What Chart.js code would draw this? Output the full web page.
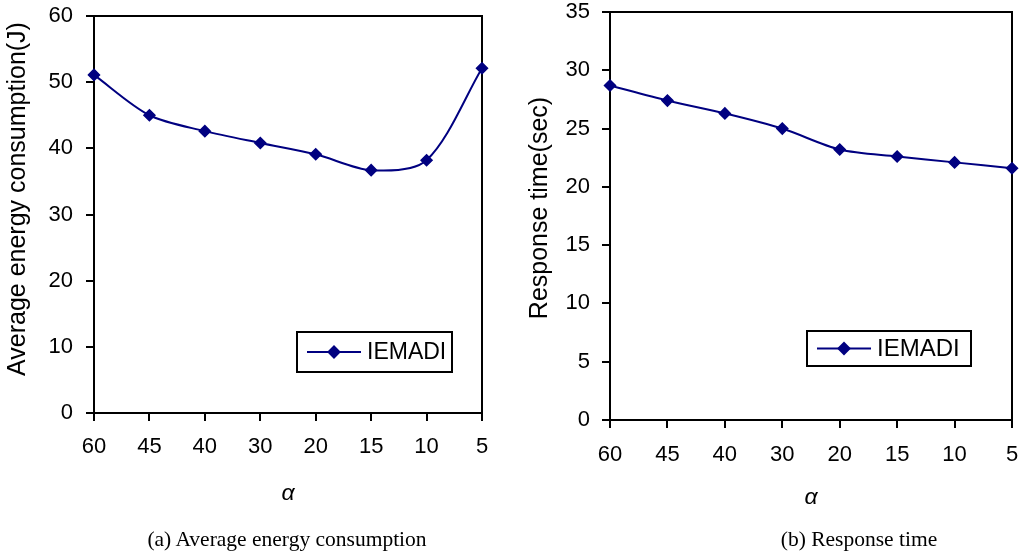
<!DOCTYPE html>
<html>
<head>
<meta charset="utf-8">
<script src="https://cdn.jsdelivr.net/npm/chart.js@4"></script>
<style>
  html, body { margin: 0; padding: 0; background: #fff; }
  #wrap { position: relative; width: 1022px; height: 559px; overflow: hidden; }
  .box { position: absolute; top: 0; width: 511px; height: 559px; }
  .cap { position: absolute; top: 527px; font-family: "Liberation Serif", serif; font-size: 21.5px; color: #000; white-space: nowrap; transform: translateX(-50%); }
</style>
</head>
<body>
<div id="wrap">
  <div class="box" style="left:0"><canvas id="energy"></canvas></div>
  <div class="box" style="left:511px"><canvas id="resp"></canvas></div>
  <div class="cap" style="left:287px">(a) Average energy consumption</div>
  <div class="cap" style="left:859px">(b) Response time</div>
</div>
<script>
// x categories (alpha), shared by both panels
const alphaLabels = ['60', '45', '40', '30', '20', '15', '10', '5'];

// panel (a): average energy consumption (J)
const energyValues = [51.1, 45.0, 42.6, 40.8, 39.1, 36.7, 38.2, 52.1];
// panel (b): response time (sec)
const responseValues = [28.7, 27.4, 26.3, 25.0, 23.2, 22.6, 22.1, 21.6];

const seriesName = 'IEMADI';
const NAVY = '#000080';
const SANS = '"Liberation Sans", Arial, sans-serif';

// draws top/right frame of the plot area
const framePlugin = {
  id: 'frame',
  beforeDatasetsDraw(chart) {
    const { ctx, chartArea: a } = chart;
    ctx.save();
    ctx.strokeStyle = '#000';
    ctx.lineWidth = 2;
    ctx.beginPath();
    ctx.moveTo(a.left, a.top);
    ctx.lineTo(a.right, a.top);
    ctx.lineTo(a.right, a.bottom);
    ctx.stroke();
    ctx.restore();
  }
};

// rotated y title, placed a bit above the axis middle like the original
const yTitlePlugin = {
  id: 'yTitle',
  afterDraw(chart, args, opts) {
    const { ctx } = chart;
    ctx.save();
    ctx.translate(opts.x, opts.y);
    ctx.rotate(-Math.PI / 2);
    ctx.fillStyle = '#000';
    ctx.font = opts.size + 'px ' + SANS;
    ctx.textAlign = 'center';
    ctx.textBaseline = 'middle';
    ctx.fillText(opts.text, 0, 0);
    ctx.restore();
  }
};

// boxed legend sitting inside the plot, Excel style
const boxLegend = {
  id: 'boxLegend',
  afterDraw(chart, args, opts) {
    const { ctx } = chart;
    const ds = chart.data.datasets[0];
    const { x, y, w, h, fontSize } = opts;
    const cy = y + h / 2;
    ctx.save();
    ctx.fillStyle = '#fff';
    ctx.fillRect(x, y, w, h);
    ctx.strokeStyle = '#000';
    ctx.lineWidth = 2;
    ctx.strokeRect(x, y, w, h);
    ctx.strokeStyle = ds.borderColor;
    ctx.lineWidth = 2;
    ctx.beginPath();
    ctx.moveTo(x + 10, cy);
    ctx.lineTo(x + 64, cy);
    ctx.stroke();
    Chart.helpers.drawPoint(ctx, {
      pointStyle: 'rectRot', radius: 5.5, borderWidth: 1.5
    }, x + 37, cy);
    ctx.fillStyle = ds.pointBackgroundColor;
    ctx.fill();
    ctx.fillStyle = '#000';
    ctx.font = fontSize + 'px ' + SANS;
    ctx.textBaseline = 'middle';
    ctx.fillText(ds.label, x + 70, cy + 1);
    ctx.restore();
  }
};

function makePanel(canvasId, values, cfg) {
  const tickFont = { family: SANS, size: cfg.tickSize };
  return new Chart(document.getElementById(canvasId), {
    type: 'line',
    data: {
      labels: alphaLabels,
      datasets: [{
        label: seriesName,
        data: values,
        borderColor: NAVY,
        backgroundColor: NAVY,
        pointBackgroundColor: NAVY,
        pointBorderColor: NAVY,
        borderWidth: 2,
        pointStyle: 'rectRot',
        pointRadius: 5.5,
        pointBorderWidth: 1.5,
        tension: 0.3,
        clip: false
      }]
    },
    options: {
      responsive: false,
      animation: false,
      devicePixelRatio: 1,
      layout: { padding: cfg.padding },
      plugins: {
        legend: { display: false },
        tooltip: { enabled: false },
        boxLegend: cfg.legend,
        yTitle: cfg.yTitle
      },
      scales: {
        x: {
          offset: false,
          afterFit: s => { s.height = cfg.xHeight; s.paddingLeft = 0; s.paddingRight = 0; },
          grid: { display: true, drawOnChartArea: false, drawTicks: true, tickLength: 8, color: '#000', lineWidth: 2 },
          border: { display: true, color: '#000', width: 2 },
          ticks: { color: '#000', font: tickFont, padding: cfg.xTickPad, maxRotation: 0, autoSkip: false },
          title: {
            display: true, text: 'α', color: '#000',
            font: { family: SANS, size: 23, style: 'italic' },
            padding: { top: 0, bottom: 0 }
          }
        },
        y: {
          min: 0, max: cfg.yMax,
          afterFit: s => { s.width = cfg.yWidth; s.paddingTop = 0; s.paddingBottom = 0; },
          grid: { display: true, drawOnChartArea: false, drawTicks: true, tickLength: 8, color: '#000', lineWidth: 2 },
          border: { display: true, color: '#000', width: 2 },
          ticks: { color: '#000', font: tickFont, stepSize: cfg.yStep, padding: cfg.yTickPad }
        }
      }
    },
    plugins: [framePlugin, boxLegend, yTitlePlugin]
  });
}

const sizeCanvas = id => {
  const c = document.getElementById(id);
  c.width = 511; c.height = 559;
  c.style.width = '511px'; c.style.height = '559px';
};
sizeCanvas('energy');
sizeCanvas('resp');

makePanel('energy', energyValues, {
  yMax: 60, yStep: 10, tickSize: 22,
  yTitle: { text: 'Average energy consumption(J)', x: 18, y: 199, size: 25 },
  padding: { top: 16, right: 29, bottom: 52, left: 0 },
  yWidth: 94, xHeight: 94, xTickPad: 13, yTickPad: 13,
  legend: { x: 297, y: 332, w: 155, h: 40, fontSize: 23 }
});

makePanel('resp', responseValues, {
  yMax: 35, yStep: 5, tickSize: 22,
  yTitle: { text: 'Response time(sec)', x: 29, y: 208, size: 25 },
  padding: { top: 12, right: 10, bottom: 48, left: 0 },
  yWidth: 99, xHeight: 91, xTickPad: 14, yTickPad: 12,
  legend: { x: 296, y: 331, w: 164, h: 35, fontSize: 24 }
});
</script>
</body>
</html>
